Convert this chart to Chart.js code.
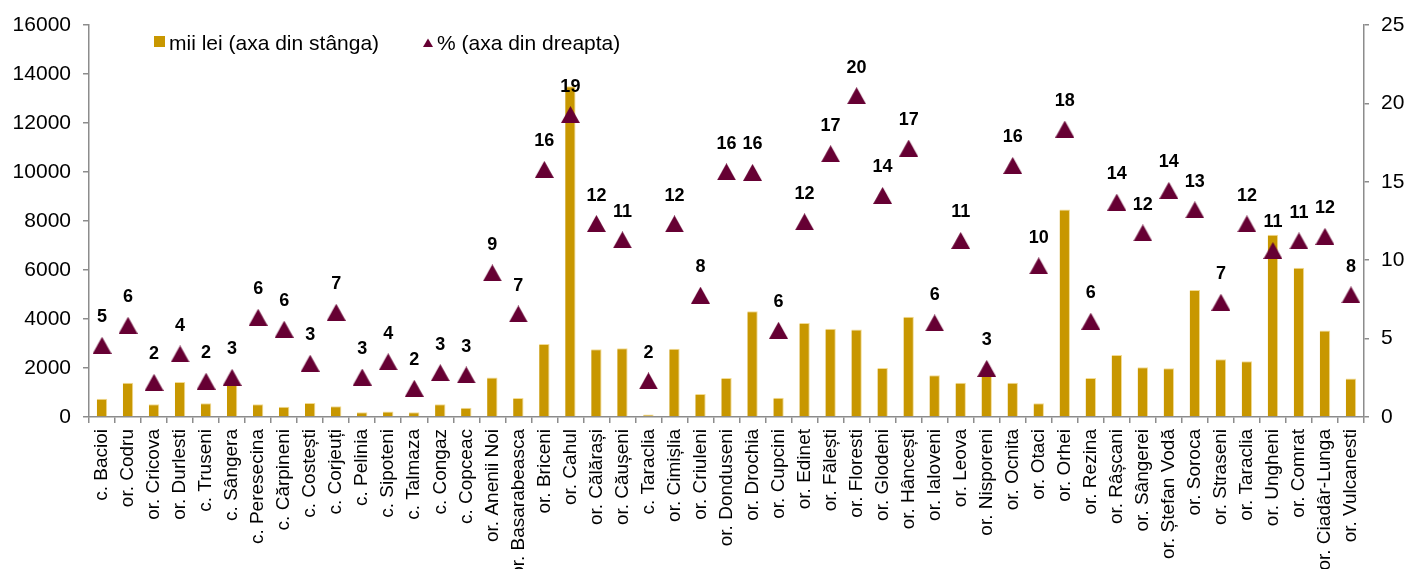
<!DOCTYPE html>
<html>
<head>
<meta charset="utf-8">
<script src="https://cdn.jsdelivr.net/npm/chart.js@4.4.1/dist/chart.umd.min.js"></script>
<style>
  html, body { margin: 0; padding: 0; background: #ffffff; overflow: hidden; }
  canvas { display: block; }
</style>
</head>
<body>
<canvas id="chart" width="1408" height="569"></canvas>
<script>
// Localities (town "or." / commune "c.")
const categories = [
  'c. Bacioi', 'or. Codru', 'or. Cricova', 'or. Durlesti', 'c. Truseni', 'c. Sângera',
  'c. Peresecina', 'c. Cărpineni', 'c. Costești', 'c. Corjeuți', 'c. Pelinia', 'c. Sipoteni',
  'c. Talmaza', 'c. Congaz', 'c. Copceac', 'or. Anenii Noi', 'or. Basarabeasca', 'or. Briceni',
  'or. Cahul', 'or. Călărași', 'or. Căușeni', 'c. Taraclia', 'or. Cimișlia', 'or. Criuleni',
  'or. Donduseni', 'or. Drochia', 'or. Cupcini', 'or. Edinet', 'or. Fălești', 'or. Floresti',
  'or. Glodeni', 'or. Hâncești', 'or. Ialoveni', 'or. Leova', 'or. Nisporeni', 'or. Ocnita',
  'or. Otaci', 'or. Orhei', 'or. Rezina', 'or. Râșcani', 'or. Sângerei', 'or. Ștefan Vodă',
  'or. Soroca', 'or. Straseni', 'or. Taraclia', 'or. Ungheni', 'or. Comrat', 'or. Ciadâr-Lunga',
  'or. Vulcanesti'
];

// Amounts, thousand lei (left axis)
const amountsThousandLei = [
  750, 1400, 520, 1430, 560, 1380, 520, 420, 570, 440,
  190, 220, 190, 520, 380, 1610, 780, 2980, 13500, 2770,
  2810, 100, 2790, 940, 1590, 4320, 790, 3840, 3600, 3570,
  2000, 4090, 1700, 1400, 1700, 1400, 560, 8470, 1590, 2530,
  2030, 1990, 5180, 2360, 2280, 7440, 6090, 3530, 1570
];

// Share, percent (right axis)
const sharePercent = [
  4.57, 5.85, 2.21, 4.02, 2.28, 2.53, 6.36, 5.6, 3.43, 6.68,
  2.55, 3.52, 1.83, 2.83, 2.68, 9.19, 6.57, 15.79, 19.29, 12.34,
  11.3, 2.3, 12.32, 7.77, 15.64, 15.6, 5.53, 12.45, 16.79, 20.49,
  14.13, 17.15, 6.0, 11.26, 3.1, 16.04, 9.64, 18.36, 6.11, 13.7,
  11.74, 14.45, 13.21, 7.32, 12.32, 10.62, 11.23, 11.52, 7.79
];

// Axis ranges
const leftAxis = { min: 0, max: 16000, step: 2000 };
const rightAxis = { min: 0, max: 25, step: 5 };

// Series names
const seriesNames = ['mii lei (axa din stânga)', '% (axa din dreapta)'];

const GOLD = '#C89700';
const MAROON = '#660033';
const AXIS_GREY = '#8C8C8C';
const FONT = "'Liberation Sans', Arial, Helvetica, sans-serif";

// Triangle marker drawn on its own small canvas so it sits centred on the value
function makeTriangle(w, h, color) {
  const c = document.createElement('canvas');
  c.width = w; c.height = h;
  const g = c.getContext('2d');
  g.fillStyle = color;
  g.beginPath();
  g.moveTo(0, h);
  g.lineTo(w / 2, 0);
  g.lineTo(w, h);
  g.closePath();
  g.fill();
  return c;
}
const triangleMarker = makeTriangle(19, 17, MAROON);

// Rounded value written above every triangle
const valueLabels = {
  id: 'valueLabels',
  afterDatasetsDraw(chart) {
    const meta = chart.getDatasetMeta(1);
    const ctx = chart.ctx;
    ctx.save();
    ctx.font = 'bold 18px ' + FONT;
    ctx.fillStyle = '#000000';
    ctx.textAlign = 'center';
    ctx.textBaseline = 'alphabetic';
    meta.data.forEach((pt, i) => {
      const v = chart.data.datasets[1].data[i];
      ctx.fillText(String(Math.round(v)), pt.x, pt.y - 23);
    });
    ctx.restore();
  }
};

// Legend inside the plot, top left
const insideLegend = {
  id: 'insideLegend',
  afterDraw(chart) {
    const ctx = chart.ctx;
    ctx.save();
    ctx.font = '21px ' + FONT;
    ctx.textAlign = 'left';
    ctx.textBaseline = 'alphabetic';
    ctx.fillStyle = GOLD;
    ctx.fillRect(154, 36, 11, 11);
    ctx.fillStyle = '#000000';
    ctx.fillText(chart.data.datasets[0].label, 169, 50);
    ctx.fillStyle = MAROON;
    ctx.beginPath();
    ctx.moveTo(423, 47);
    ctx.lineTo(428, 38.5);
    ctx.lineTo(433, 47);
    ctx.closePath();
    ctx.fill();
    ctx.fillStyle = '#000000';
    ctx.fillText(chart.data.datasets[1].label, 437, 50);
    ctx.restore();
  }
};

const plainNumber = (v) => String(v);

new Chart(document.getElementById('chart'), {
  data: {
    labels: categories,
    datasets: [
      {
        type: 'bar',
        label: seriesNames[0],
        data: amountsThousandLei,
        yAxisID: 'y',
        backgroundColor: GOLD,
        borderColor: '#F3DB93',
        borderWidth: { top: 1, right: 1, left: 0, bottom: 0 },
        borderSkipped: false,
        barPercentage: 0.4,
        categoryPercentage: 1.0,
        order: 1
      },
      {
        type: 'line',
        label: seriesNames[1],
        data: sharePercent,
        yAxisID: 'y1',
        showLine: false,
        pointStyle: triangleMarker,
        pointRadius: 10,
        pointHoverRadius: 10,
        clip: false,
        order: 0
      }
    ]
  },
  options: {
    responsive: false,
    animation: false,
    devicePixelRatio: 1,
    layout: { padding: { top: 25, left: 0, right: 0, bottom: 0 } },
    plugins: {
      legend: { display: false },
      tooltip: { enabled: false }
    },
    scales: {
      x: {
        type: 'category',
        offset: true,
        grid: {
          offset: true,
          drawOnChartArea: false,
          drawTicks: true,
          tickLength: 6,
          color: AXIS_GREY,
          lineWidth: 1.5
        },
        border: { color: AXIS_GREY, width: 1.5 },
        ticks: {
          autoSkip: false,
          maxRotation: 90,
          minRotation: 90,
          padding: 6,
          color: '#000000',
          font: { family: FONT, size: 19 }
        },
        afterFit(scale) { scale.height = 152; }
      },
      y: {
        position: 'left',
        min: leftAxis.min,
        max: leftAxis.max,
        grid: {
          drawOnChartArea: false,
          tickLength: 6,
          color: AXIS_GREY,
          lineWidth: 1.5
        },
        border: { color: AXIS_GREY, width: 1.5 },
        ticks: {
          stepSize: leftAxis.step,
          padding: 12,
          color: '#000000',
          font: { family: FONT, size: 21 },
          callback: plainNumber
        },
        afterFit(scale) { scale.width = 89; }
      },
      y1: {
        position: 'right',
        min: rightAxis.min,
        max: rightAxis.max,
        grid: {
          drawOnChartArea: false,
          tickLength: 5,
          color: AXIS_GREY,
          lineWidth: 1.5
        },
        border: { color: AXIS_GREY, width: 1.5 },
        ticks: {
          stepSize: rightAxis.step,
          padding: 12,
          color: '#000000',
          font: { family: FONT, size: 21 },
          callback: plainNumber
        },
        afterFit(scale) { scale.width = 1408 - 1364; }
      }
    }
  },
  plugins: [valueLabels, insideLegend]
});
</script>
</body>
</html>
